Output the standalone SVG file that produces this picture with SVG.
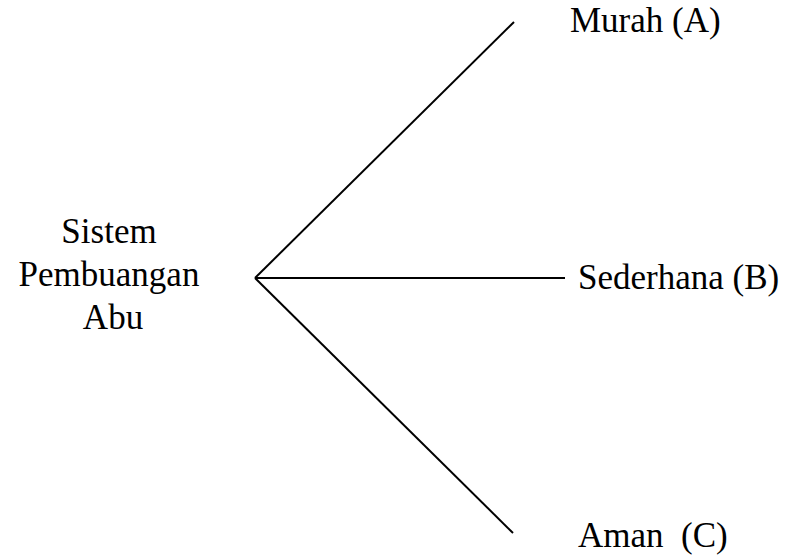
<svg xmlns="http://www.w3.org/2000/svg" width="789" height="556" viewBox="0 0 789 556">
  <style>
    .lbl { font-family: 'Liberation Serif', 'Times New Roman', Times, 'DejaVu Serif', serif; font-size: 35px; fill: #000; }
    .mid { text-anchor: middle; }
    .edge { stroke: #000; stroke-width: 2; fill: none; stroke-linecap: butt; }
  </style>
  <rect width="789" height="556" fill="#fff"/>
  <g id="connectors">
    <line class="edge" x1="255" y1="278" x2="514" y2="22"/>
    <line class="edge" x1="255" y1="278" x2="565" y2="278"/>
    <line class="edge" x1="255" y1="278" x2="513" y2="533"/>
  </g>
  <g id="root">
    <text class="lbl mid" x="109" y="243" font-family="Liberation Serif">Sistem</text>
    <text class="lbl mid" x="109" y="286" font-family="Liberation Serif">Pembuangan</text>
    <text class="lbl mid" x="113" y="329" font-family="Liberation Serif">Abu</text>
  </g>
  <g id="murah">
    <text class="lbl" x="570" y="32">Murah (A)</text>
  </g>
  <g id="sederhana">
    <text class="lbl" x="578" y="289">Sederhana (B)</text>
  </g>
  <g id="aman">
    <text class="lbl" x="578" y="547" xml:space="preserve">Aman  (C)</text>
  </g>
</svg>
